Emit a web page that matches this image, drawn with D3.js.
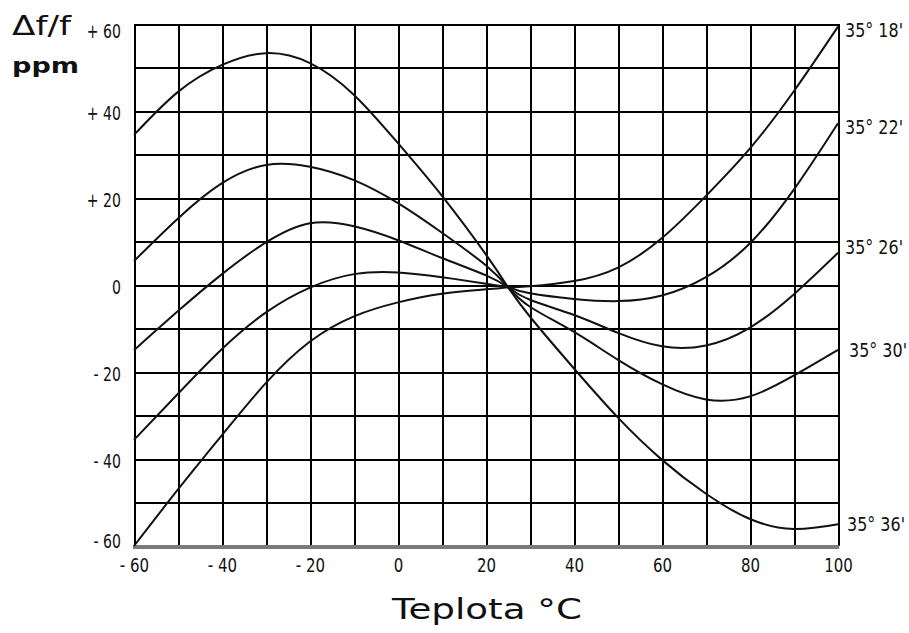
<!DOCTYPE html>
<html>
<head>
<meta charset="utf-8">
<script src="https://cdn.jsdelivr.net/npm/d3@7"></script>
<style>
  body { margin: 0; background: #fff; }
  svg { display: block; }
  .grid line { stroke: #000; stroke-width: 2; shape-rendering: crispEdges; }
  .grid path { display: none; }
  .tick-label { font-family: "DejaVu Sans", sans-serif; fill: #111; }
</style>
</head>
<body>
<svg id="chart" width="909" height="633"></svg>
<script>
// temperature points (°C) where each curve was read
const tempC = [-60, -50, -40, -30, -20, -10, 0, 10, 20, 25, 30, 40, 50, 60, 70, 80, 90, 100];

// frequency deviation in ppm for each cut angle
const cut18 = [34.5, 44.4, 50.6, 53.3, 51.0, 43.7, 32.6, 20.5, 7.0, -0.5, -0.3, 0.9, 4.0, 10.8, 20.5, 31.4, 44.6, 59.4];
const cut22 = [5.5, 15.3, 23.4, 27.6, 27.2, 24.1, 18.8, 12.0, 4.5, -0.5, -1.9, -3.2, -3.7, -2.4, 1.8, 9.6, 22.0, 37.2];
const cut26 = [-15.0, -6.0, 2.5, 9.8, 14.2, 13.5, 10.3, 6.2, 2.2, -0.5, -3.4, -6.9, -11.0, -14.1, -13.9, -9.8, -2.1, 7.4];
const cut30 = [-35.6, -25.0, -14.7, -6.3, -0.6, 2.5, 2.9, 1.8, 0.3, -0.5, -5.0, -10.8, -17.2, -22.8, -26.3, -25.6, -20.8, -14.9];
const cut36 = [-60.0, -47.0, -34.5, -22.5, -13.0, -7.2, -4.0, -2.0, -1.0, -0.5, -7.3, -19.2, -30.5, -40.2, -48.0, -53.8, -56.1, -55.0];

const cutLabels = ["35° 18'", "35° 22'", "35° 26'", "35° 30'", "35° 36'"];
const series = [cut18, cut22, cut26, cut30, cut36];

const tempTicks = [-60, -40, -20, 0, 20, 40, 60, 80, 100];
const ppmTicks = [60, 40, 20, 0, -20, -40, -60];

// all curves pass through the same point; each side is drawn as its own spline
const pivot = tempC.indexOf(25);

const margin = { top: 24, right: 71, bottom: 87, left: 134 },
  width = 909 - margin.left - margin.right,
  height = 633 - margin.top - margin.bottom;

const svg = d3.select("#chart");
const g = svg.append("g").attr("transform", `translate(${margin.left},${margin.top})`);

const x = d3.scaleLinear().domain([-60, 100]).range([0, width]);
const y = d3.scaleLinear().domain([-60, 60]).range([height, 0]);

// squeeze DejaVu glyphs to look like a condensed face
function condense(sel, factor) {
  sel.each(function () {
    const w = this.getComputedTextLength();
    d3.select(this).attr("textLength", w * factor).attr("lengthAdjust", "spacingAndGlyphs");
  });
}

// grid every 10 units in both directions
g.append("g")
  .attr("class", "grid")
  .attr("transform", `translate(0,${height})`)
  .call(d3.axisBottom(x).tickValues(d3.range(-60, 101, 10)).tickSize(-height).tickFormat(""));

g.append("g")
  .attr("class", "grid")
  .call(d3.axisLeft(y).tickValues(d3.range(-60, 61, 10)).tickSize(-width).tickFormat(""));

// bottom edge is heavier and grey
g.append("line")
  .attr("x1", -1).attr("x2", width + 1)
  .attr("y1", height + 1).attr("y2", height + 1)
  .attr("stroke", "#7a7a7a").attr("stroke-width", 4);

const fmt = (v) => (v > 0 ? "+ " + v : v < 0 ? "- " + Math.abs(v) : "0");
const fmtX = (v) => (v < 0 ? "- " + Math.abs(v) : String(v));

// y tick labels
const yAxis = g.append("g")
  .call(d3.axisLeft(y).tickValues(ppmTicks).tickSize(0).tickPadding(13).tickFormat(fmt));
yAxis.select(".domain").remove();
yAxis.selectAll("text")
  .attr("class", "tick-label")
  .style("font-size", "19px")
  .attr("dy", (d) => (d === 60 ? "0.72em" : d === -60 ? "0.1em" : "0.45em"))
  .call(condense, 0.74);

// x tick labels
const xAxis = g.append("g")
  .attr("transform", `translate(0,${height})`)
  .call(d3.axisBottom(x).tickValues(tempTicks).tickSize(0).tickPadding(12).tickFormat(fmtX));
xAxis.select(".domain").remove();
xAxis.selectAll("text")
  .attr("class", "tick-label")
  .style("font-size", "20px")
  .call(condense, 0.75);

// curves
const line = d3.line()
  .x((d) => x(d[0]))
  .y((d) => y(d[1]))
  .curve(d3.curveNatural);

const halves = [];
series.forEach((vals) => {
  const pts = vals.map((v, i) => [tempC[i], v]);
  halves.push(pts.slice(0, pivot + 1), pts.slice(pivot));
});

g.selectAll(".curve")
  .data(halves)
  .enter()
  .append("path")
  .attr("class", "curve")
  .attr("fill", "none")
  .attr("stroke", "#111")
  .attr("stroke-width", 2)
  .attr("d", line);

// angle labels at the right end of each curve, scaled horizontally
const labelNudge = [4, 4, -6, 0, 0];
const labelShift = [7, 7, 7, 11, 9];
g.selectAll(".cut-label")
  .data(series)
  .enter()
  .append("text")
  .attr("class", "tick-label cut-label")
  .attr("transform", (d, i) =>
    `translate(${width + labelShift[i]},${y(d[d.length - 1]) + labelNudge[i]}) scale(0.84,1)`)
  .attr("dy", "0.36em")
  .style("font-size", "19px")
  .text((d, i) => cutLabels[i]);

// axis titles
svg.append("text")
  .attr("x", 12).attr("y", 35)
  .style("font-family", "'DejaVu Sans', sans-serif")
  .style("font-size", "27px")
  .attr("textLength", 59)
  .attr("lengthAdjust", "spacingAndGlyphs")
  .attr("fill", "#111")
  .text("Δf/f");

svg.append("text")
  .attr("x", 12).attr("y", 73)
  .style("font-family", "'DejaVu Sans', sans-serif")
  .style("font-weight", "bold")
  .style("font-size", "22px")
  .attr("textLength", 67)
  .attr("lengthAdjust", "spacingAndGlyphs")
  .attr("fill", "#111")
  .text("ppm");

svg.append("text")
  .attr("x", 487).attr("y", 619)
  .attr("text-anchor", "middle")
  .style("font-family", "'DejaVu Sans', sans-serif")
  .style("font-size", "28px")
  .attr("textLength", 190)
  .attr("lengthAdjust", "spacingAndGlyphs")
  .attr("fill", "#111")
  .text("Teplota °C");
</script>
</body>
</html>
